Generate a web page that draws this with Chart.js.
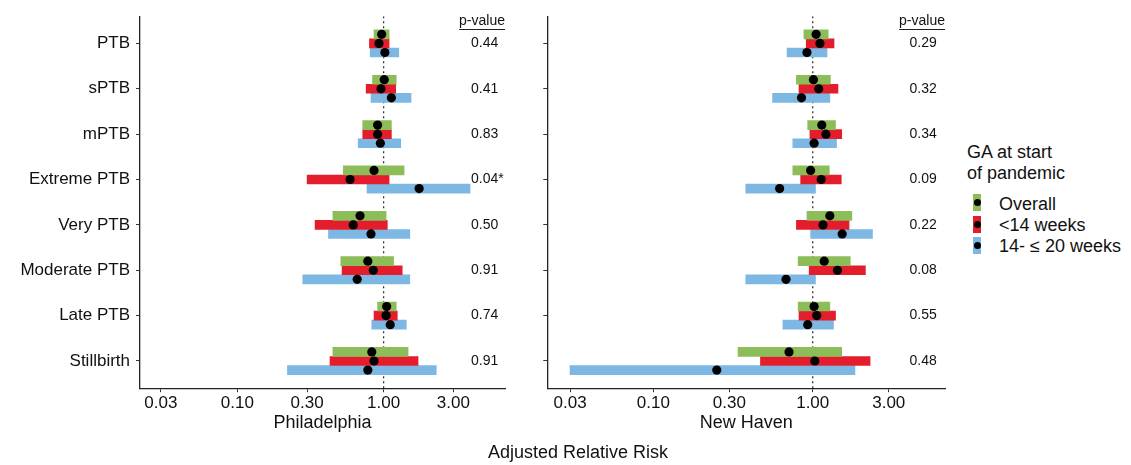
<!DOCTYPE html>
<html>
<head>
<meta charset="utf-8">
<script src="https://cdn.jsdelivr.net/npm/chart.js@4.4.1/dist/chart.umd.min.js"></script>
<style>
  html, body { margin: 0; padding: 0; background: #fff; }
  body { width: 1131px; height: 465px; position: relative; overflow: hidden; font-family: "Liberation Sans", Arial, sans-serif; color: #111; }
  canvas { position: absolute; top: 0; }
  #c1 { left: 0; }
  #c2 { left: 530px; }
  .txt { position: absolute; white-space: nowrap; }
  #xtitle { left: 578px; top: 452px; transform: translate(-50%, -50%); font-size: 18px; }
  #legtitle { left: 967px; top: 142px; font-size: 18px; line-height: 21px; }
  .key { position: absolute; left: 973px; width: 8px; height: 17px; }
  .key::after { content: ""; position: absolute; left: 1px; top: 5px; width: 7px; height: 7px; border-radius: 50%; background: #000; }
  .klab { position: absolute; left: 999px; font-size: 18px; transform: translateY(-50%); }
</style>
</head>
<body>
<canvas id="c1" width="530" height="465"></canvas>
<canvas id="c2" width="430" height="465"></canvas>
<div id="xtitle" class="txt">Adjusted Relative Risk</div>
<div id="legtitle" class="txt">GA at start<br>of pandemic</div>
<div id="legend"></div>
<script>
// ---------------- DATA ----------------
const categories = ['PTB', 'sPTB', 'mPTB', 'Extreme PTB', 'Very PTB', 'Moderate PTB', 'Late PTB', 'Stillbirth'];
const seriesNames = ['Overall', '<14 weeks', '14- \u2264 20 weeks'];
const xTickValues = [0.03, 0.1, 0.3, 1, 3];
const panelTitles = ['Philadelphia', 'New Haven'];

// Philadelphia
const phlOverallEst = [0.97, 1.01, 0.91, 0.86, 0.69, 0.78, 1.05, 0.83];
const phlOverallLo  = [0.86, 0.84, 0.72, 0.53, 0.45, 0.51, 0.91, 0.45];
const phlOverallHi  = [1.09, 1.22, 1.13, 1.38, 1.04, 1.17, 1.22, 1.47];
const phlEarlyEst   = [0.93, 0.96, 0.91, 0.59, 0.62, 0.85, 1.04, 0.86];
const phlEarlyLo    = [0.80, 0.76, 0.72, 0.30, 0.34, 0.52, 0.86, 0.43];
const phlEarlyHi    = [1.09, 1.21, 1.13, 1.09, 1.06, 1.34, 1.24, 1.72];
const phlLateEst    = [1.02, 1.13, 0.95, 1.75, 0.82, 0.66, 1.11, 0.78];
const phlLateLo     = [0.81, 0.82, 0.67, 0.77, 0.42, 0.28, 0.83, 0.22];
const phlLateHi     = [1.27, 1.54, 1.31, 3.90, 1.51, 1.51, 1.43, 2.29];
const phlPValues    = ['0.44', '0.41', '0.83', '0.04*', '0.50', '0.91', '0.74', '0.91'];

// New Haven
const nhOverallEst = [1.05, 1.01, 1.14, 0.97, 1.28, 1.18, 1.02, 0.71];
const nhOverallLo  = [0.88, 0.79, 0.93, 0.75, 0.92, 0.81, 0.81, 0.34];
const nhOverallHi  = [1.25, 1.29, 1.39, 1.27, 1.76, 1.72, 1.28, 1.52];
const nhEarlyEst   = [1.11, 1.09, 1.21, 1.13, 1.16, 1.43, 1.06, 1.03];
const nhEarlyLo    = [0.91, 0.82, 0.96, 0.84, 0.79, 0.95, 0.82, 0.47];
const nhEarlyHi    = [1.36, 1.44, 1.52, 1.51, 1.69, 2.14, 1.39, 2.29];
const nhLateEst    = [0.92, 0.85, 1.02, 0.62, 1.53, 0.68, 0.93, 0.25];
const nhLateLo     = [0.69, 0.56, 0.75, 0.38, 0.97, 0.38, 0.65, 0.03];
const nhLateHi     = [1.23, 1.28, 1.41, 1.04, 2.37, 1.04, 1.35, 1.84];
const nhPValues    = ['0.29', '0.32', '0.34', '0.09', '0.22', '0.08', '0.55', '0.48'];

// ---------------- STYLE ----------------
const seriesColors = ['#8dbd58', '#e31d2c', '#7db7e3'];
const seriesOffsets = [-0.2, 0, 0.2];
const FONT = '"Liberation Sans", Arial, sans-serif';

// legend (HTML)
const legendTops = [194, 215.5, 236.5];
const legendEl = document.getElementById('legend');
seriesNames.forEach((n, i) => {
  const k = document.createElement('div');
  k.className = 'key';
  k.style.top = legendTops[i] + 'px';
  k.style.background = seriesColors[i];
  legendEl.appendChild(k);
  const l = document.createElement('div');
  l.className = 'klab txt';
  l.style.top = (legendTops[i] + 9.5) + 'px';
  l.textContent = n;
  legendEl.appendChild(l);
});

const pvalPlugin = {
  id: 'pvals',
  afterDatasetsDraw(chart, args, opts) {
    const ctx = chart.ctx;
    const area = chart.chartArea;
    const y = chart.scales.y;
    ctx.save();
    ctx.fillStyle = '#111';
    ctx.font = '14px ' + FONT;
    ctx.textBaseline = 'middle';
    ctx.textAlign = 'right';
    const hx = area.right + opts.headerDx;
    ctx.fillText('p-value', hx, 21);
    const w = ctx.measureText('p-value').width;
    ctx.strokeStyle = '#222';
    ctx.lineWidth = 1;
    ctx.beginPath();
    ctx.moveTo(hx - w, 29.5);
    ctx.lineTo(hx, 29.5);
    ctx.stroke();
    ctx.textAlign = 'left';
    opts.values.forEach((v, i) => {
      ctx.fillText(v, area.right + opts.valueDx, y.getPixelForValue(i + 1));
    });
    ctx.restore();
  }
};

function makePanel(canvasId, est, lo, hi, pvals, title, showLabels, yAxisWidth, padRight, valueDx) {
  const datasets = [];
  // reference line at RR = 1
  datasets.push({
    type: 'line',
    data: [{ x: 1, y: 0.4 }, { x: 1, y: 8.6 }],
    borderColor: '#333',
    borderWidth: 1.3,
    borderDash: [2, 3],
    pointRadius: 0,
    order: 5
  });
  for (let s = 0; s < 3; s++) {
    datasets.push({
      type: 'bar',
      label: seriesNames[s],
      data: categories.map((c, i) => ({ x: [lo[s][i], hi[s][i]], y: i + 1 + seriesOffsets[s] })),
      backgroundColor: seriesColors[s],
      borderWidth: 0,
      barThickness: 9,
      grouped: false,
      order: 3
    });
  }
  for (let s = 0; s < 3; s++) {
    datasets.push({
      type: 'scatter',
      data: categories.map((c, i) => ({ x: est[s][i], y: i + 1 + seriesOffsets[s] })),
      backgroundColor: '#000',
      borderWidth: 0,
      pointRadius: 4.6,
      order: 1
    });
  }
  return new Chart(document.getElementById(canvasId), {
    type: 'bar',
    data: { datasets },
    plugins: [pvalPlugin],
    options: {
      indexAxis: 'y',
      responsive: false,
      animation: false,
      devicePixelRatio: 1,
      layout: { padding: { top: 10.5, right: padRight, left: 0, bottom: 0 } },
      plugins: {
        legend: { display: false },
        tooltip: { enabled: false },
        pvals: { values: pvals, headerDx: 0, valueDx: valueDx }
      },
      scales: {
        x: {
          type: 'logarithmic',
          min: 0.0216,
          max: 6.76,
          offset: false,
          afterBuildTicks: (sc) => { sc.ticks = xTickValues.map(v => ({ value: v })); },
          afterFit: (sc) => { sc.height = 465 - 388.2; },
          ticks: {
            callback: (v) => Number(v).toFixed(2),
            color: '#111',
            font: { family: FONT, size: 17 },
            padding: 1,
            maxRotation: 0,
            autoSkip: false
          },
          grid: { display: true, offset: false, drawOnChartArea: false, drawTicks: true, tickLength: 4, tickColor: '#333', tickWidth: 1 },
          border: { display: true, color: '#222', width: 1.3 },
          title: { display: true, text: title, color: '#111', font: { family: FONT, size: 18 }, padding: { top: 0, bottom: 31 } }
        },
        y: {
          type: 'linear',
          min: 0.4,
          max: 8.6,
          reverse: true,
          offset: false,
          afterBuildTicks: (sc) => { sc.ticks = categories.map((c, i) => ({ value: i + 1 })); },
          afterFit: (sc) => { sc.width = yAxisWidth; },
          ticks: {
            callback: (v) => showLabels ? categories[Math.round(v) - 1] : '',
            color: '#111',
            font: { family: FONT, size: 17 },
            padding: 6,
            autoSkip: false
          },
          grid: { display: true, offset: false, drawOnChartArea: false, drawTicks: true, tickLength: 4, tickColor: '#333', tickWidth: 1 },
          border: { display: true, color: '#222', width: 1.3 }
        }
      }
    }
  });
}

makePanel('c1',
  [phlOverallEst, phlEarlyEst, phlLateEst],
  [phlOverallLo, phlEarlyLo, phlLateLo],
  [phlOverallHi, phlEarlyHi, phlLateHi],
  phlPValues, panelTitles[0], true, 140, 25, -34);

makePanel('c2',
  [nhOverallEst, nhEarlyEst, nhLateEst],
  [nhOverallLo, nhEarlyLo, nhLateLo],
  [nhOverallHi, nhEarlyHi, nhLateHi],
  nhPValues, panelTitles[1], false, 17.3, 430 - 415, -35.5);
</script>
</body>
</html>
